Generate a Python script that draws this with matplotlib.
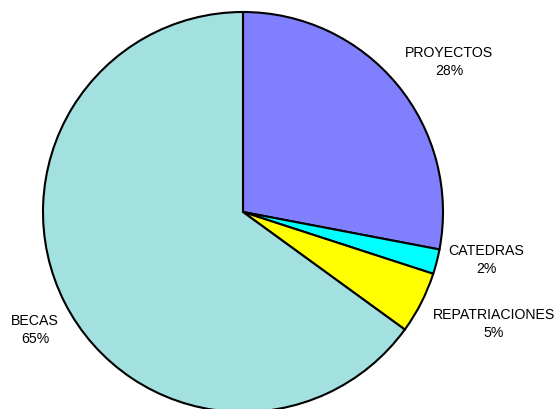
import matplotlib
matplotlib.use('Agg')
import matplotlib.pyplot as plt

# shares of the budget
labels = ['PROYECTOS', 'CATEDRAS', 'REPATRIACIONES', 'BECAS']
values = [28, 2, 5, 65]
colors = ['#8080FF', '#00FFFF', '#FFFF00', '#A3E0E0']

# where each label sits (pie radius = 1)
label_pos = [(1.03, 0.755), (1.215, -0.235), (1.255, -0.555), (-1.04, -0.585)]

plt.rcParams['font.family'] = ['Liberation Sans', 'DejaVu Sans']

fig = plt.figure(figsize=(5.56, 4.10), dpi=100)
ax = fig.add_axes([0, 0, 1, 1])

ax.pie(values, colors=colors, startangle=90, counterclock=False,
       wedgeprops=dict(edgecolor='black', linewidth=1.5))

for lab, v, (x, y) in zip(labels, values, label_pos):
    ax.text(x, y, '{}\n{}%'.format(lab, v), ha='center', va='center',
            fontsize=10.2, linespacing=1.4)

ax.set_xlim(-1.215, 1.565)
ax.set_ylim(-0.985, 1.065)
ax.set_aspect('equal')
ax.axis('off')

fig.savefig('out.png', dpi=100)
